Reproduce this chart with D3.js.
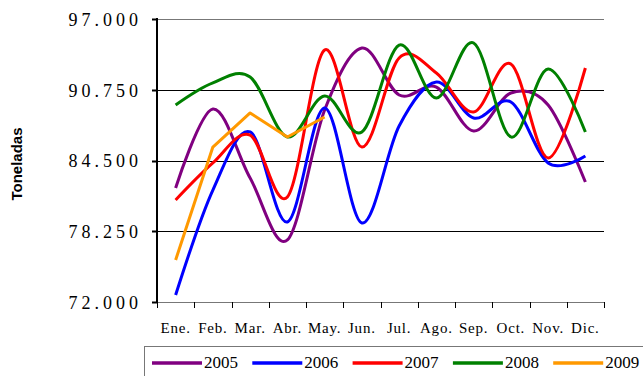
<!DOCTYPE html>
<meta charset="utf-8">
<style>
body { margin: 0; background: #fff; }
svg { display: block; }
.ytick text { font-family: "Liberation Serif", "Times New Roman", serif; font-size: 18px; font-weight: normal; letter-spacing: 4px; fill: #000; }
.xtick text { font-family: "Liberation Serif", "Times New Roman", serif; font-size: 15px; font-weight: normal; letter-spacing: 0.8px; fill: #000; }
.grid line { stroke-width: 1; shape-rendering: crispEdges; }
.series { fill: none; stroke-width: 3; stroke-linejoin: round; stroke-linecap: butt; }
.legend text { font-family: "Liberation Serif", "Times New Roman", serif; font-size: 17px; font-weight: normal; fill: #000; }
</style>
<body>
<script src="https://cdnjs.cloudflare.com/ajax/libs/d3/7.8.5/d3.min.js"></script>
<script>

var months = ["Ene.", "Feb.", "Mar.", "Abr.", "May.", "Jun.", "Jul.", "Ago.", "Sep.", "Oct.", "Nov.", "Dic."];
var yTicks = [72000, 78250, 84500, 90750, 97000];
var years = ["2005", "2006", "2007", "2008", "2009"];
var colors = ["#800080", "#0000FF", "#FF0000", "#008000", "#FF9900"];

var v2005 = [82070, 89050, 82950, 77480, 88960, 94440, 90290, 90990, 87110, 90460, 89400, 82600];
var v2006 = [72620, 81890, 87020, 79070, 89140, 78980, 87550, 91430, 88250, 89670, 84280, 84900];
var v2007 = [81010, 84280, 86750, 81280, 94260, 85690, 93560, 92230, 88780, 93020, 84720, 92670];
var v2008 = [89400, 91350, 91880, 86580, 90200, 87020, 94700, 90020, 94880, 86580, 92580, 87020];
var v2009 = [75710, 85690, 88700, 86580, 88340];

var seriesValues = [v2005, v2006, v2007, v2008, v2009];

var width = 643, height = 376,
    plotLeft = 157, plotRight = 604, plotTop = 19, plotBottom = 302;

var x = d3.scaleBand().domain(months).range([plotLeft, plotRight]).padding(0);
var y = d3.scaleLinear().domain([72000, 97000]).range([plotBottom, plotTop]);

var fmt = function(d) {
  return d3.format(",.0f")(d).replace(",", ".");
};

var svg = d3.select("body").append("svg")
    .attr("width", width)
    .attr("height", height);

// horizontal grid
svg.append("g")
    .attr("class", "grid")
  .selectAll("line")
    .data(yTicks.slice(1))
  .enter().append("line")
    .attr("x1", plotLeft)
    .attr("x2", plotRight)
    .attr("y1", function(d) { return Math.round(y(d)) + 0.5; })
    .attr("y2", function(d) { return Math.round(y(d)) + 0.5; })
    .style("stroke", function(d) { return d === 97000 ? "#777" : "#000"; });

// bottom axis
var xAxis = svg.append("g")
    .attr("class", "xtick");

xAxis.append("line")
    .attr("x1", plotLeft).attr("x2", plotRight)
    .attr("y1", plotBottom + 0.5).attr("y2", plotBottom + 0.5)
    .style("stroke", "#777")
    .style("shape-rendering", "crispEdges");

xAxis.selectAll("line.tk")
    .data(months.concat([null]))
  .enter().append("line")
    .attr("class", "tk")
    .attr("x1", function(d, i) { return Math.round(plotLeft + i * x.bandwidth()) + 0.5; })
    .attr("x2", function(d, i) { return Math.round(plotLeft + i * x.bandwidth()) + 0.5; })
    .attr("y1", plotBottom)
    .attr("y2", plotBottom + 6)
    .style("stroke", "#000")
    .style("shape-rendering", "crispEdges");

xAxis.selectAll("text")
    .data(months)
  .enter().append("text")
    .attr("x", function(d) { return x(d) + x.bandwidth() / 2; })
    .attr("y", 333)
    .attr("text-anchor", "middle")
    .text(function(d) { return d; });

// left axis
var yAxis = svg.append("g")
    .attr("class", "ytick");

yAxis.append("line")
    .attr("x1", plotLeft).attr("x2", plotLeft)
    .attr("y1", plotTop - 1).attr("y2", plotBottom + 1)
    .style("stroke", "#000")
    .style("stroke-width", 2);

yAxis.selectAll("line.tk")
    .data(yTicks)
  .enter().append("line")
    .attr("class", "tk")
    .attr("x1", plotLeft - 5)
    .attr("x2", plotLeft)
    .attr("y1", function(d) { return Math.round(y(d)) + 0.5; })
    .attr("y2", function(d) { return Math.round(y(d)) + 0.5; })
    .style("stroke", "#000")
    .style("stroke-width", 2);

yAxis.selectAll("text")
    .data(yTicks)
  .enter().append("text")
    .attr("x", 142)
    .attr("y", function(d) { return y(d); })
    .attr("dy", "0.38em")
    .attr("text-anchor", "end")
    .text(fmt);

svg.append("text")
    .attr("transform", "translate(22,164) rotate(-90)")
    .attr("text-anchor", "middle")
    .style("font", "bold 15px 'Liberation Sans', Arial, sans-serif")
    .text("Toneladas");

// series
var smooth = d3.line()
    .x(function(d, i) { return x(months[i]) + x.bandwidth() / 2; })
    .y(function(d) { return y(d); })
    .curve(d3.curveCardinal.tension(0));

var straight = d3.line()
    .x(function(d, i) { return x(months[i]) + x.bandwidth() / 2; })
    .y(function(d) { return y(d); });

svg.selectAll("path.series")
    .data(seriesValues)
  .enter().append("path")
    .attr("class", "series")
    .attr("d", function(d, i) { return i === 4 ? straight(d) : smooth(d); })
    .style("stroke", function(d, i) { return colors[i]; });

// legend
var legend = svg.append("g").attr("class", "legend");

legend.append("rect")
    .attr("x", 144.5)
    .attr("y", 346.5)
    .attr("width", 520)
    .attr("height", 60)
    .style("fill", "#fff")
    .style("stroke", "#777");

var item = legend.selectAll("g.item")
    .data(years)
  .enter().append("g")
    .attr("class", "item")
    .attr("transform", function(d, i) { return "translate(" + (152 + i * 100.3) + ",0)"; });

item.append("line")
    .attr("x1", 0).attr("x2", 50)
    .attr("y1", 363).attr("y2", 363)
    .style("stroke", function(d, i) { return colors[i]; })
    .style("stroke-width", 3.5);

item.append("text")
    .attr("x", 52)
    .attr("y", 368)
    .text(function(d) { return d; });

</script>
